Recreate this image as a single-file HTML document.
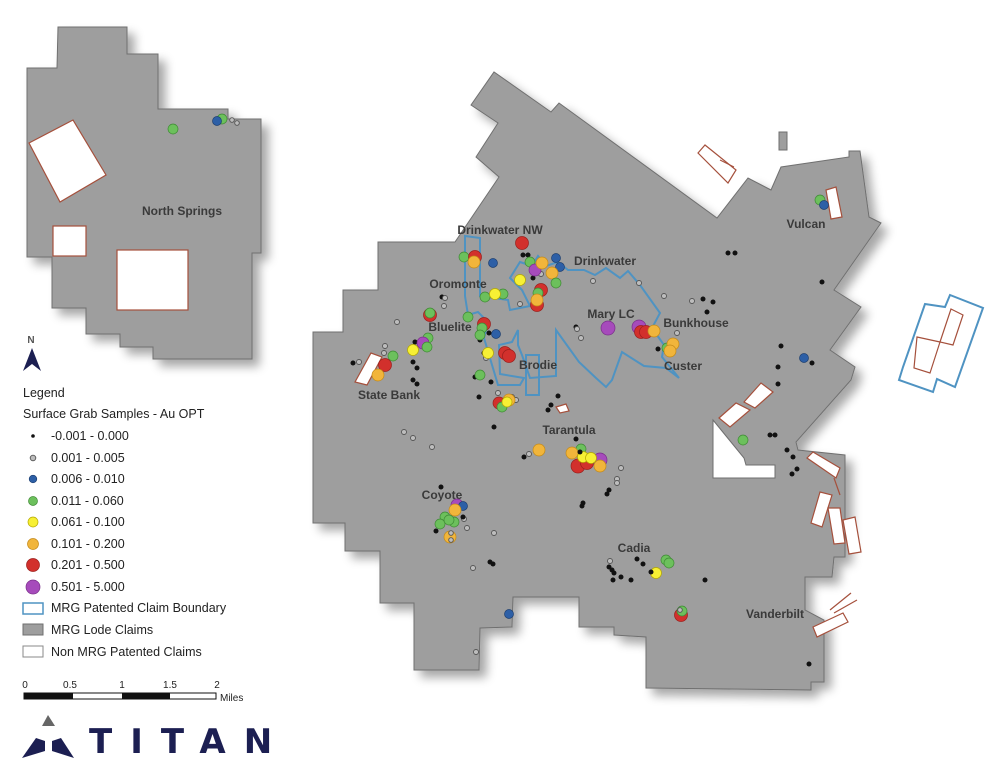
<!DOCTYPE html>
<html><head><meta charset="utf-8"><style>
html,body{margin:0;padding:0;background:#fff;}
svg{display:block;font-family:"Liberation Sans",sans-serif;}
.lbl{font-size:12px;font-weight:bold;fill:#3a3a3a;}
.lg{font-size:12.5px;fill:#222;}
.c{fill:#fff;stroke:#a5503c;stroke-width:1.2;}
.k{fill:#111;}
.g{fill:#bdbdbd;stroke:#555;stroke-width:0.9;}
.b{fill:#2d5fa6;stroke:#1d3f70;stroke-width:0.7;}
.gr{fill:#6cc05c;stroke:#3f8a35;stroke-width:0.7;}
.y{fill:#f7f034;stroke:#b5a900;stroke-width:0.7;}
.o{fill:#f1b53b;stroke:#c48a1a;stroke-width:0.7;}
.r{fill:#d2302c;stroke:#9b1f1c;stroke-width:0.7;}
.p{fill:#a64bbb;stroke:#7a2f8a;stroke-width:0.7;}
</style></head><body>
<svg width="1000" height="771" viewBox="0 0 1000 771" xmlns="http://www.w3.org/2000/svg">
<defs>
<filter id="sh" x="-10%" y="-10%" width="130%" height="130%">
<feGaussianBlur in="SourceAlpha" stdDeviation="5"/>
<feOffset dx="7" dy="7" result="o"/>
<feComponentTransfer><feFuncA type="linear" slope="0.35"/></feComponentTransfer>
<feMerge><feMergeNode/><feMergeNode in="SourceGraphic"/></feMerge>
</filter>
</defs>

<!-- North Springs inset -->
<polygon filter="url(#sh)" fill="#9e9e9e" stroke="#6f6f6f" stroke-width="1"
points="58,27 127,27 127,54 158,54 158,109 228,109 228,119 261,119 261,253 252,253 252,359 153,359 153,347 120,347 120,334 86,334 86,308 52,308 52,257 27,257 27,68 57,68"/>
<polygon class="c" points="29,143 73,120 106,175 60,202"/>
<rect class="c" x="53" y="226" width="33" height="30"/>
<rect class="c" x="117" y="250" width="71" height="60"/>
<text class="lbl" x="182" y="215" text-anchor="middle" font-size="12.5">North Springs</text>
<circle class="gr" cx="173" cy="129" r="5"/>
<circle class="gr" cx="222" cy="119" r="5"/>
<circle class="b" cx="217" cy="121" r="4.5"/>
<circle class="g" cx="232" cy="120" r="2.3"/><circle class="g" cx="237" cy="123" r="2.3"/>

<!-- Main claims -->
<polygon filter="url(#sh)" fill="#9e9e9e" stroke="#6f6f6f" stroke-width="1"
points="471,105 494,72 551,112 559,103 717,218 748,178 771,190 781,167 849,157 849,151 860,151 869,217 881,223 834,290 861,307 830,350 855,367 851,380 796,442 798,450 845,455 845,557 834,557 832,577 805,577 805,610 824,620 824,682 811,682 811,690 646,688 646,637 614,635 614,627 579,627 579,597 513,597 512,627 480,628 479,670 414,670 414,603 380,603 380,551 345,551 345,523 313,523 313,332 343,332 343,290 378,290 378,242 455,242 499,177 476,157 498,123"/>
<polygon fill="#fff" stroke="#6f6f6f" stroke-width="1" points="713,420 744,458 746,465 775,465 775,478 713,478"/>
<rect x="779" y="132" width="8" height="18" fill="#9e9e9e" stroke="#6f6f6f"/>

<!-- MRG patented boundary (blue) -->
<g fill="none" stroke="#4f93c2" stroke-width="2">
<path d="M465,236 L480,238 L480,296 L508,300 L510,310 L530,306 L522,290 L510,278 L520,262 L532,266 L538,256 L546,266 L558,262 L568,270 L584,270 L595,275 L606,268 L620,278 L628,271 L640,285 L660,313 L652,328 L664,345 L662,357 L679,378 L666,368 L644,366 L622,352 L612,380 L606,387 L596,378 L579,362 L556,330 L556,376 L530,378 L522,355 L518,345 L518,330 L512,342 L499,345 L500,374 L524,378 L520,385 L498,385 L484,338 L488,322 L478,312 L468,315 L465,296 Z"/>
<rect x="526" y="355" width="13" height="40"/>
<polygon points="925,304 945,307 950,295 983,308 955,387 937,379 933,392 899,380 903,367"/>
</g>
<g class="c" fill="none">
<polygon points="951,309 963,315 953,345 940,342"/>
<polygon points="917,337 940,342 930,373 914,368"/>
</g>

<!-- Non MRG patented claims -->
<polygon class="c" points="698,153 705,145 736,170 728,183"/>
<line x1="720" y1="160" x2="734" y2="167" stroke="#a5503c" stroke-width="1"/>
<polygon class="c" points="826,190 836,187 842,217 831,219"/>
<polygon class="c" points="355,382 371,353 382,357 367,385"/>
<polygon class="c" points="556,407 566,404 569,411 560,413"/>
<polygon class="c" points="744,402 761,383 773,392 755,408"/>
<polygon class="c" points="719,418 736,403 750,410 730,427"/>
<polygon class="c" points="807,458 813,452 840,468 836,478"/>
<line x1="834" y1="478" x2="840" y2="495" stroke="#a5503c" stroke-width="1.2"/>
<polygon class="c" points="811,523 820,492 832,495 822,527"/>
<polygon class="c" points="828,508 840,508 845,543 834,544"/>
<polygon class="c" points="843,520 855,517 861,552 849,554"/>
<polygon class="c" points="813,627 843,613 848,622 817,637"/>
<line x1="830" y1="610" x2="851" y2="593" stroke="#a5503c" stroke-width="1.2"/>
<line x1="834" y1="613" x2="857" y2="600" stroke="#a5503c" stroke-width="1.2"/>

<!-- Labels -->
<text class="lbl" x="500" y="234" text-anchor="middle">Drinkwater NW</text>
<text class="lbl" x="605" y="265" text-anchor="middle">Drinkwater</text>
<text class="lbl" x="458" y="288" text-anchor="middle">Oromonte</text>
<text class="lbl" x="450" y="331" text-anchor="middle">Bluelite</text>
<text class="lbl" x="611" y="318" text-anchor="middle">Mary LC</text>
<text class="lbl" x="696" y="327" text-anchor="middle">Bunkhouse</text>
<text class="lbl" x="538" y="369" text-anchor="middle">Brodie</text>
<text class="lbl" x="683" y="370" text-anchor="middle">Custer</text>
<text class="lbl" x="389" y="399" text-anchor="middle">State Bank</text>
<text class="lbl" x="569" y="434" text-anchor="middle">Tarantula</text>
<text class="lbl" x="806" y="228" text-anchor="middle">Vulcan</text>
<text class="lbl" x="442" y="499" text-anchor="middle">Coyote</text>
<text class="lbl" x="634" y="552" text-anchor="middle">Cadia</text>
<text class="lbl" x="775" y="618" text-anchor="middle">Vanderbilt</text>

<!-- samples: black -->
<g class="k">
<circle cx="523" cy="255" r="2.5"/><circle cx="528" cy="255" r="2.5"/><circle cx="533" cy="278" r="2.5"/>
<circle cx="703" cy="299" r="2.5"/><circle cx="713" cy="302" r="2.5"/><circle cx="707" cy="312" r="2.5"/>
<circle cx="442" cy="297" r="2.5"/><circle cx="489" cy="333" r="2.5"/><circle cx="480" cy="340" r="2.5"/>
<circle cx="415" cy="342" r="2.5"/><circle cx="424" cy="347" r="2.5"/><circle cx="353" cy="363" r="2.5"/>
<circle cx="413" cy="362" r="2.5"/><circle cx="417" cy="368" r="2.5"/><circle cx="413" cy="380" r="2.5"/><circle cx="417" cy="384" r="2.5"/>
<circle cx="484" cy="353" r="2.5"/><circle cx="576" cy="327" r="2.5"/><circle cx="658" cy="349" r="2.5"/>
<circle cx="475" cy="377" r="2.5"/><circle cx="491" cy="382" r="2.5"/><circle cx="479" cy="397" r="2.5"/>
<circle cx="558" cy="396" r="2.5"/><circle cx="551" cy="405" r="2.5"/><circle cx="548" cy="410" r="2.5"/>
<circle cx="494" cy="427" r="2.5"/><circle cx="728" cy="253" r="2.5"/><circle cx="735" cy="253" r="2.5"/>
<circle cx="822" cy="282" r="2.5"/><circle cx="781" cy="346" r="2.5"/><circle cx="778" cy="367" r="2.5"/><circle cx="778" cy="384" r="2.5"/>
<circle cx="812" cy="363" r="2.5"/><circle cx="576" cy="439" r="2.5"/><circle cx="524" cy="457" r="2.5"/>
<circle cx="609" cy="490" r="2.5"/><circle cx="607" cy="494" r="2.5"/><circle cx="583" cy="503" r="2.5"/><circle cx="582" cy="506" r="2.5"/>
<circle cx="441" cy="487" r="2.5"/><circle cx="436" cy="531" r="2.5"/><circle cx="490" cy="562" r="2.5"/><circle cx="493" cy="564" r="2.5"/>
<circle cx="609" cy="567" r="2.5"/><circle cx="612" cy="570" r="2.5"/><circle cx="614" cy="573" r="2.5"/><circle cx="613" cy="580" r="2.5"/>
<circle cx="621" cy="577" r="2.5"/><circle cx="631" cy="580" r="2.5"/><circle cx="637" cy="559" r="2.5"/><circle cx="643" cy="564" r="2.5"/>
<circle cx="705" cy="580" r="2.5"/><circle cx="809" cy="664" r="2.5"/><circle cx="770" cy="435" r="2.5"/><circle cx="775" cy="435" r="2.5"/>
<circle cx="787" cy="450" r="2.5"/><circle cx="793" cy="457" r="2.5"/><circle cx="797" cy="469" r="2.5"/><circle cx="792" cy="474" r="2.5"/>
</g>
<!-- grey -->
<g class="g">
<circle cx="593" cy="281" r="2.5"/><circle cx="639" cy="283" r="2.5"/><circle cx="664" cy="296" r="2.5"/><circle cx="692" cy="301" r="2.5"/>
<circle cx="445" cy="298" r="2.5"/><circle cx="444" cy="306" r="2.5"/><circle cx="520" cy="304" r="2.5"/><circle cx="541" cy="274" r="2.5"/>
<circle cx="397" cy="322" r="2.5"/><circle cx="385" cy="346" r="2.5"/><circle cx="384" cy="353" r="2.5"/><circle cx="359" cy="362" r="2.5"/>
<circle cx="486" cy="358" r="2.5"/><circle cx="577" cy="329" r="2.5"/><circle cx="581" cy="338" r="2.5"/><circle cx="677" cy="333" r="2.5"/>
<circle cx="498" cy="393" r="2.5"/><circle cx="512" cy="397" r="2.5"/><circle cx="516" cy="400" r="2.5"/>
<circle cx="404" cy="432" r="2.5"/><circle cx="413" cy="438" r="2.5"/><circle cx="432" cy="447" r="2.5"/><circle cx="529" cy="454" r="2.5"/>
<circle cx="621" cy="468" r="2.5"/><circle cx="617" cy="479" r="2.5"/><circle cx="617" cy="483" r="2.5"/>
<circle cx="464" cy="519" r="2.5"/><circle cx="467" cy="528" r="2.5"/><circle cx="494" cy="533" r="2.5"/><circle cx="473" cy="568" r="2.5"/>
<circle cx="476" cy="652" r="2.5"/><circle cx="610" cy="561" r="2.5"/>
</g>
<!-- colored -->
<circle class="r" cx="522" cy="243" r="6.5"/>
<circle class="gr" cx="464" cy="257" r="5"/><circle class="r" cx="475" cy="257" r="6.5"/><circle class="o" cx="474" cy="262" r="6"/>
<circle class="b" cx="493" cy="263" r="4.5"/>
<circle class="gr" cx="530" cy="262" r="5"/><circle class="p" cx="535" cy="270" r="6"/><circle class="o" cx="542" cy="263" r="6"/>
<circle class="b" cx="556" cy="258" r="4.5"/><circle class="b" cx="560" cy="267" r="4.5"/>
<circle class="o" cx="552" cy="273" r="6"/><circle class="gr" cx="556" cy="283" r="5"/><circle class="y" cx="520" cy="280" r="5.5"/>
<circle class="gr" cx="485" cy="297" r="5"/><circle class="gr" cx="503" cy="294" r="5"/><circle class="y" cx="495" cy="294" r="5.5"/>
<circle class="r" cx="541" cy="290" r="6.5"/><circle class="gr" cx="538" cy="293" r="5"/><circle class="r" cx="537" cy="305" r="6.5"/><circle class="o" cx="537" cy="300" r="6"/>
<circle class="r" cx="430" cy="315" r="6.5"/><circle class="gr" cx="430" cy="313" r="5"/>
<circle class="gr" cx="468" cy="317" r="5"/><circle class="r" cx="484" cy="324" r="6.5"/><circle class="gr" cx="482" cy="328" r="5"/><circle class="gr" cx="480" cy="335" r="5"/>
<circle class="b" cx="496" cy="334" r="4.5"/>
<circle class="gr" cx="428" cy="338" r="5"/><circle class="p" cx="423" cy="343" r="6"/><circle class="gr" cx="427" cy="347" r="5"/><circle class="y" cx="413" cy="350" r="5.5"/>
<circle class="gr" cx="393" cy="356" r="5"/><circle class="r" cx="385" cy="365" r="6.5"/><circle class="o" cx="378" cy="375" r="6"/>
<circle class="y" cx="488" cy="353" r="5.5"/>
<circle class="r" cx="505" cy="353" r="6.5"/><circle class="r" cx="509" cy="356" r="6.5"/>
<circle class="p" cx="608" cy="328" r="7"/>
<circle class="p" cx="639" cy="327" r="7"/><circle class="r" cx="641" cy="332" r="6.5"/><circle class="r" cx="646" cy="332" r="6.5"/><circle class="o" cx="654" cy="331" r="6"/>
<circle class="gr" cx="667" cy="348" r="5"/><circle class="o" cx="673" cy="344" r="6"/><circle class="o" cx="670" cy="351" r="6"/>
<circle class="gr" cx="480" cy="375" r="5"/>
<circle class="r" cx="499" cy="403" r="6"/><circle class="gr" cx="502" cy="407" r="5"/><circle class="o" cx="509" cy="400" r="6"/><circle class="y" cx="507" cy="402" r="5"/>
<circle class="gr" cx="820" cy="200" r="5"/><circle class="b" cx="824" cy="205" r="4.5"/>
<circle class="b" cx="804" cy="358" r="4.5"/>
<circle class="gr" cx="743" cy="440" r="5"/>
<circle class="o" cx="539" cy="450" r="6"/>
<circle class="gr" cx="581" cy="449" r="5"/><circle class="o" cx="572" cy="453" r="6"/><circle class="r" cx="578" cy="466" r="7"/><circle class="r" cx="587" cy="463" r="6.5"/>
<circle class="p" cx="600" cy="460" r="7"/><circle class="y" cx="583" cy="457" r="5.5"/><circle class="y" cx="591" cy="458" r="5.5"/><circle class="o" cx="600" cy="466" r="6"/>
<circle class="k" cx="580" cy="452" r="2.5"/>
<circle class="p" cx="457" cy="505" r="6"/><circle class="b" cx="463" cy="506" r="4.5"/><circle class="o" cx="455" cy="510" r="6"/>
<circle class="gr" cx="445" cy="517" r="5"/><circle class="gr" cx="440" cy="524" r="5"/><circle class="gr" cx="454" cy="522" r="5"/><circle class="gr" cx="449" cy="520" r="5"/>
<circle class="k" cx="463" cy="517" r="2.5"/>
<circle class="o" cx="450" cy="537" r="6"/><circle class="g" cx="451" cy="533" r="2.3"/><circle class="g" cx="451" cy="540" r="2.3"/>
<circle class="b" cx="509" cy="614" r="4.5"/>
<circle class="gr" cx="666" cy="560" r="5"/><circle class="gr" cx="669" cy="563" r="5"/>
<circle class="y" cx="656" cy="573" r="5.5"/><circle class="k" cx="651" cy="572" r="2.5"/>
<circle class="r" cx="681" cy="615" r="6.5"/><circle class="gr" cx="682" cy="611" r="5"/><circle class="g" cx="680" cy="610" r="2.3"/>

<!-- North arrow -->
<text x="31" y="343" font-size="10" font-weight="bold" fill="#555" text-anchor="middle">N</text>
<polygon points="32,348 23,371 32,364 41,371" fill="#1c1f52"/>

<!-- Legend -->
<text class="lg" x="23" y="397" font-size="13">Legend</text>
<text class="lg" x="23" y="418">Surface Grab Samples - Au OPT</text>
<circle class="k" cx="33" cy="436" r="1.8"/><text class="lg" x="51" y="440">-0.001 - 0.000</text>
<circle class="g" cx="33" cy="458" r="2.8"/><text class="lg" x="51" y="462">0.001 - 0.005</text>
<circle class="b" cx="33" cy="479" r="3.8"/><text class="lg" x="51" y="483">0.006 - 0.010</text>
<circle class="gr" cx="33" cy="501" r="4.5"/><text class="lg" x="51" y="505">0.011 - 0.060</text>
<circle class="y" cx="33" cy="522" r="5"/><text class="lg" x="51" y="526">0.061 - 0.100</text>
<circle class="o" cx="33" cy="544" r="5.5"/><text class="lg" x="51" y="548">0.101 - 0.200</text>
<circle class="r" cx="33" cy="565" r="6.5"/><text class="lg" x="51" y="569">0.201 - 0.500</text>
<circle class="p" cx="33" cy="587" r="7"/><text class="lg" x="51" y="591">0.501 - 5.000</text>
<rect x="23" y="603" width="20" height="11" fill="#fff" stroke="#4f93c2" stroke-width="1.5"/><text class="lg" x="51" y="612">MRG Patented Claim Boundary</text>
<rect x="23" y="624" width="20" height="11" fill="#9e9e9e" stroke="#6f6f6f"/><text class="lg" x="51" y="634">MRG Lode Claims</text>
<rect x="23" y="646" width="20" height="11" fill="#fff" stroke="#888"/><text class="lg" x="51" y="656">Non MRG Patented Claims</text>

<!-- Scale bar -->
<g font-size="10" fill="#222">
<text x="25" y="688" text-anchor="middle">0</text>
<text x="70" y="688" text-anchor="middle">0.5</text>
<text x="122" y="688" text-anchor="middle">1</text>
<text x="170" y="688" text-anchor="middle">1.5</text>
<text x="217" y="688" text-anchor="middle">2</text>
<text x="220" y="701">Miles</text>
</g>
<rect x="24" y="693" width="192" height="6" fill="#fff" stroke="#111" stroke-width="1"/>
<rect x="24" y="693" width="49" height="6" fill="#111"/>
<rect x="122" y="693" width="48" height="6" fill="#111"/>

<!-- TITAN logo -->
<polygon points="48,715 42,726 55,726" fill="#666"/>
<polygon points="22,758 36,738 45,741 45,751" fill="#1c1f52"/>
<polygon points="52,741 61,738 74,758 52,751" fill="#1c1f52"/>
<text x="89" y="753" font-size="34" font-weight="bold" fill="#1c1f52" letter-spacing="18" style="font-family:'DejaVu Sans','Liberation Sans',sans-serif">TITAN</text>
</svg>
</body></html>
